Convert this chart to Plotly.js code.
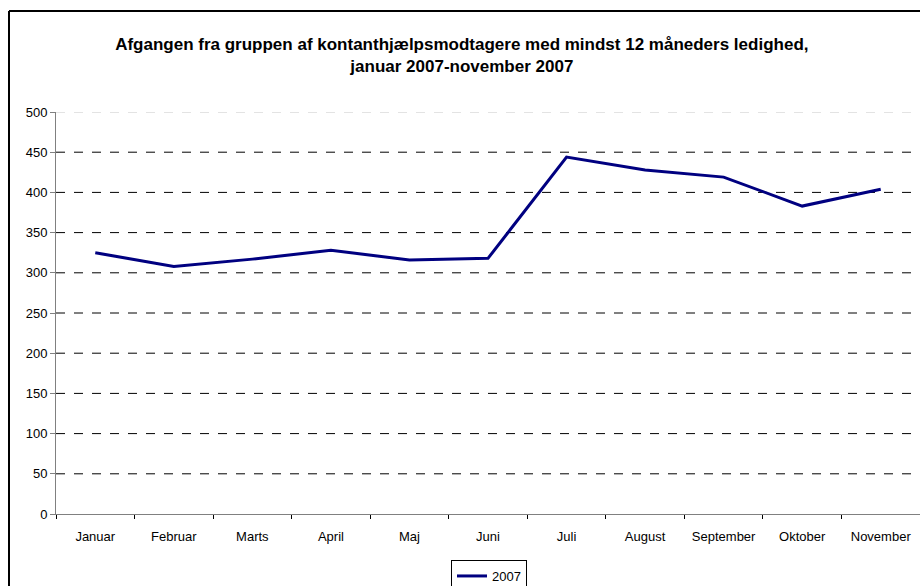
<!DOCTYPE html>
<html>
<head>
<meta charset="utf-8">
<script src="https://cdn.plot.ly/plotly-3.0.1.min.js"></script>
<style>html,body{margin:0;padding:0;background:#fff;overflow:hidden;}#chart{width:920px;height:586px;}</style>
</head>
<body>
<div id="chart"></div>
<script>
const months = ["Januar","Februar","Marts","April","Maj","Juni","Juli","August","September","Oktober","November"];
const values2007 = [325, 308, 317, 328, 316, 318, 444, 428, 419, 383, 404];
const seriesName = "2007";
const yTicks = [0,50,100,150,200,250,300,350,400,450,500];
const gridTicks = [50,100,150,200,250,300,350,400,450];

const L = 56, T = 112, B = 72, W = 920, H = 586;
const pw = W - L, ph = H - T - B;
const px = v => (v - L) / pw;
const py = v => (H - B - v) / ph;

const trace = {
  x: months, y: values2007, type: 'scatter', mode: 'lines', name: seriesName,
  line: {color: '#000080', width: 3}
};

const layout = {
  width: W, height: H,
  margin: {l: L, r: 0, t: T, b: B, pad: 0, autoexpand: false},
  paper_bgcolor: '#fff', plot_bgcolor: '#fff',
  font: {family: 'Liberation Sans, Arial, sans-serif', size: 13, color: '#000'},
  title: {
    text: '<b>Afgangen fra gruppen af kontanthjælpsmodtagere med mindst 12 måneders ledighed,<br>januar 2007-november 2007</b>',
    font: {family: 'Liberation Sans, Arial, sans-serif', size: 17, color: '#000'},
    x: 0.502, xanchor: 'center', y: 1 - 50 / H, yanchor: 'middle'
  },
  xaxis: {
    type: 'category', range: [-0.5, 10.5], showgrid: false, zeroline: false,
    showline: true, linecolor: '#808080', linewidth: 1,
    ticks: 'outside', tickson: 'boundaries', ticklen: 4, tickcolor: '#000',
    ticklabelstandoff: 10,
    tickfont: {size: 13}, fixedrange: true, automargin: false
  },
  yaxis: {
    range: [0, 500], tickvals: yTicks, ticktext: yTicks.map(String),
    showgrid: false,
    zeroline: false, showline: true, linecolor: '#808080', linewidth: 1,
    ticks: 'outside', ticklen: 5, tickcolor: '#808080', tickfont: {size: 13},
    fixedrange: true, automargin: false
  },
  showlegend: true,
  legend: {
    orientation: 'h', x: px(451), xanchor: 'left', y: py(560), yanchor: 'top',
    bordercolor: '#000', borderwidth: 1, bgcolor: '#fff',
    font: {size: 13}, itemwidth: 30, tracegroupgap: 0
  },
  shapes: [
    {type: 'line', xref: 'paper', yref: 'paper', x0: px(9), x1: px(925), y0: py(11), y1: py(11),
     line: {color: '#000', width: 2}, layer: 'below'},
    {type: 'line', xref: 'paper', yref: 'paper', x0: px(9), x1: px(9), y0: py(11), y1: py(600),
     line: {color: '#000', width: 2}, layer: 'below'},
    {type: 'line', xref: 'paper', yref: 'y', x0: 0, x1: 1, y0: 500, y1: 500,
     line: {color: '#c8c8c8', width: 1, dash: 'dash'}, layer: 'below'}
  ].concat(gridTicks.map(v => ({
    type: 'line', xref: 'paper', yref: 'y', x0: 0, x1: 1, y0: v, y1: v,
    line: {color: '#000', width: 1, dash: 'dash'}, layer: 'below'
  })))
};

Plotly.newPlot('chart', [trace], layout, {displayModeBar: false, staticPlot: true});
</script>
</body>
</html>
